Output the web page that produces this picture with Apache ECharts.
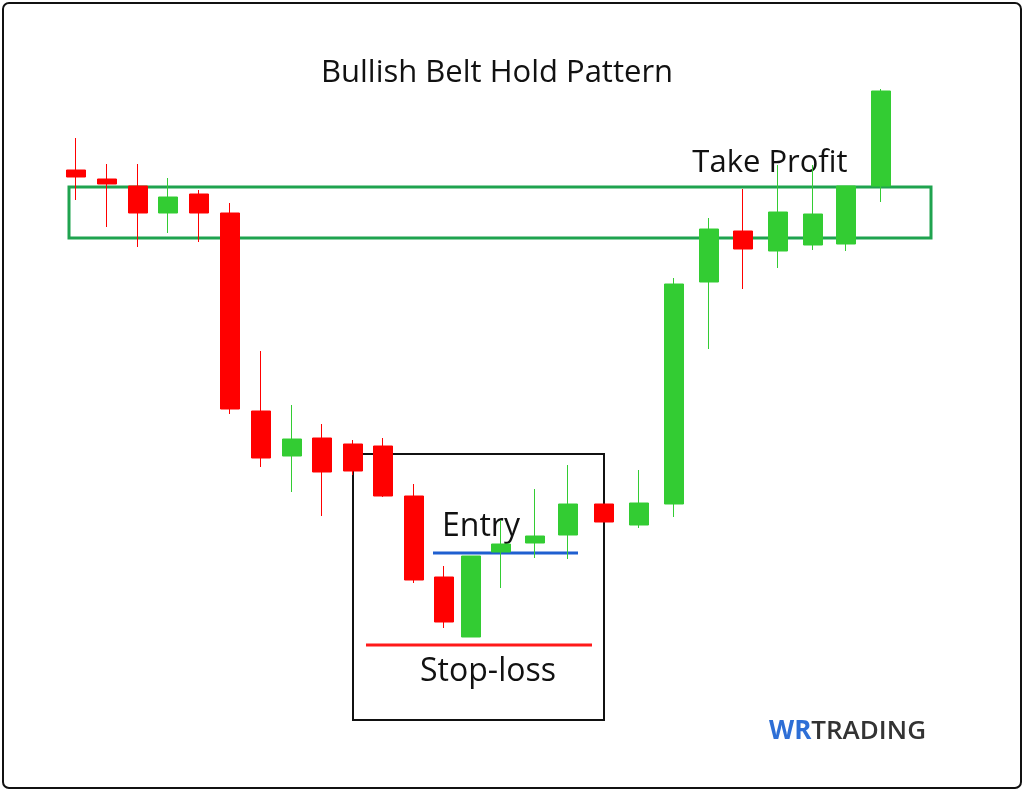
<!DOCTYPE html>
<html><head><meta charset="utf-8">
<script src="https://cdn.jsdelivr.net/npm/echarts@6/dist/echarts.min.js"></script>
<style>html,body{margin:0;padding:0;background:#fff}#c{width:1024px;height:791px}</style>
</head><body><div id="c"></div>
<script>
// session time positions (sessions are not evenly spaced)
const sessions = [0,0.97,1.94,2.88,3.84,4.81,5.78,6.75,7.69,8.66,9.59,10.56,11.5,12.34,13.28,14.34,15.38,16.5,17.59,18.69,19.78,20.84,21.94,23.03,24.06,25.16];
// [open, close, low, high]
const candles = [
 [621,614,591,653],[612,607,564,627],[605,578,544,627],[578,594,558,613],
 [597,578,549,601],[578,382,377,588],[380,333,324,440],[335,352,299,386],
 [353,319,275,367],[347,320,316,351],[345,295,294,353],[295,211,208,307],
 [214,169,163,225],[154,235,154,235],[239,247,203,271],[248,255,233,302],
 [256,287,232,326],[287,269,269,287],[266,288,263,321],[287,507,274,513],
 [509,562,442,573],[560,542,502,602],[540,579,523,626],[546,577,541,626],
 [547,605,540,605],[605,700,589,702]
];
const data = candles.map((c,i)=>[sessions[i]].concat(c));
const chart = echarts.init(document.getElementById('c'));
chart.setOption({
 animation:false,
 grid:{left:76,width:805,top:0,bottom:0},
 xAxis:{type:'value',min:0,max:25.16,show:false},
 yAxis:{type:'value',min:0,max:791,show:false},
 series:[{type:'candlestick',data:data,barWidth:20,encode:{x:0,y:[1,2,3,4]},
  itemStyle:{color:'#33cc33',color0:'#ff0000',borderColor:'#33cc33',borderColor0:'#ff0000',borderWidth:1}}],
 graphic:[
  {type:'rect',shape:{x:3,y:3,width:1018,height:785,r:6},style:{fill:'none',stroke:'#111',lineWidth:2}},
  {type:'rect',shape:{x:69,y:187,width:862,height:51},style:{fill:'none',stroke:'#1fa34f',lineWidth:3}},
  {type:'rect',shape:{x:353,y:454,width:251,height:266},style:{fill:'none',stroke:'#111',lineWidth:2}},
  {type:'line',shape:{x1:433,y1:553,x2:578,y2:553},style:{stroke:'#1f5fd0',lineWidth:3}},
  {type:'line',shape:{x1:366,y1:645,x2:592,y2:645},style:{stroke:'#ff1a1a',lineWidth:3}},
  {type:'text',x:497,y:73,style:{text:'Bullish Belt Hold Pattern',font:'31px "Open Sans"',fill:'#111',align:'center',verticalAlign:'middle'}},
  {type:'text',x:770,y:163,style:{text:'Take Profit',font:'31px "Open Sans"',fill:'#111',align:'center',verticalAlign:'middle'}},
  {type:'text',x:481,y:527,style:{text:'Entry',font:'32px "Open Sans"',fill:'#111',align:'center',verticalAlign:'middle'}},
  {type:'text',x:488,y:672,style:{text:'Stop-loss',font:'32px "Open Sans"',fill:'#111',align:'center',verticalAlign:'middle'}},
  {type:'text',x:769,y:732,style:{rich:{a:{fill:'#2e6fd6',font:'bold 26px "Open Sans"'},b:{fill:'#333',font:'600 26px "Open Sans"'}},text:'{a|WR}{b|TRADING}',verticalAlign:'middle'}}
 ]
});
</script></body></html>
